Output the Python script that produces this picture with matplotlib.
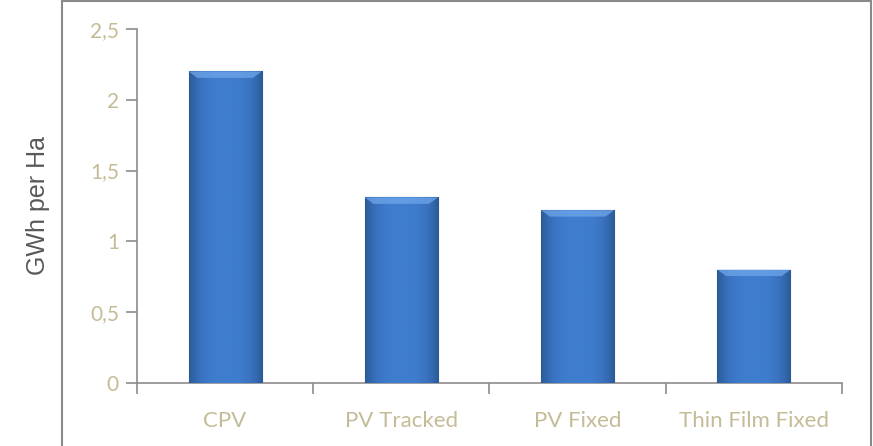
import numpy as np
import matplotlib.pyplot as plt
from matplotlib.patches import Rectangle, Polygon
from matplotlib.colors import LinearSegmentedColormap

# Chart data
categories = ['CPV', 'PV Tracked', 'PV Fixed', 'Thin Film Fixed']
values = [2.2, 1.31, 1.22, 0.8]
y_ticks = [0, 0.5, 1, 1.5, 2, 2.5]
y_tick_labels = ['0', '0,5', '1', '1,5', '2', '2,5']

tan = '#C4BC96'
axis_gray = '#8C8C8C'

fig = plt.figure(figsize=(8.73, 4.46), dpi=100)
ax = fig.add_axes([0.1569, 0.1413, 0.8076, 0.7937])

x = np.arange(len(categories))
bars = ax.bar(x, values, width=0.415, color='#3B74C0', edgecolor='#2A5590', linewidth=0.8, zorder=2)

# horizontal shading inside each bar, clipped to the bar
grad = np.abs(np.linspace(-1, 1, 64)) ** 3
grad = np.tile(grad, (2, 1))
cmap = LinearSegmentedColormap.from_list('barshade', ['#3F7DCF', '#2C5A98'])
for b in bars:
    x0, w, h = b.get_x(), b.get_width(), b.get_height()
    im = ax.imshow(grad, cmap=cmap, aspect='auto', extent=[x0, x0 + w, 0, h],
                   zorder=3, interpolation='bicubic')
    im.set_clip_path(b)
    # lighter bevel along the top
    bev = 0.045
    ax.add_patch(Polygon([(x0, h), (x0 + w, h), (x0 + w * 0.88, h - bev), (x0 + w * 0.12, h - bev)],
                         closed=True, facecolor='#6FA6EA', edgecolor='none', alpha=0.75, zorder=4))

ax.set_xlim(-0.5, len(categories) - 0.5)
ax.set_ylim(0, 2.5)

ax.set_yticks(y_ticks)
ax.set_yticklabels(y_tick_labels)
ax.set_xticks(x)
ax.set_xticklabels(categories)
ax.set_xticks(np.arange(-0.5, len(categories), 1), minor=True)

ax.tick_params(axis='y', direction='out', length=8, width=1.2, color=axis_gray,
               labelcolor=tan, labelsize=15, pad=5)
ax.tick_params(axis='x', which='major', length=0, labelcolor=tan, labelsize=16, pad=20)
ax.tick_params(axis='x', which='minor', direction='out', length=8, width=1.2, color=axis_gray)
for lab in ax.get_xticklabels() + ax.get_yticklabels():
    lab.set_family(['Lato', 'DejaVu Sans'])

for s in ['top', 'right']:
    ax.spines[s].set_visible(False)
for s in ['left', 'bottom']:
    ax.spines[s].set_color(axis_gray)
    ax.spines[s].set_linewidth(1.2)

ax.set_ylabel('GWh per Ha', fontsize=18, color='#595959', family=['Liberation Sans', 'DejaVu Sans'])
ax.yaxis.set_label_coords(-0.123, 0.5)

# outer chart frame (open at the bottom edge of the image)
fig.patches.append(Rectangle((62 / 873, -0.05), (871 - 62) / 873, 1.05 - 1.5 / 446,
                             transform=fig.transFigure, fill=False,
                             edgecolor='#8A8A8A', linewidth=1.5, clip_on=False))

plt.savefig('out.png', dpi=100)
